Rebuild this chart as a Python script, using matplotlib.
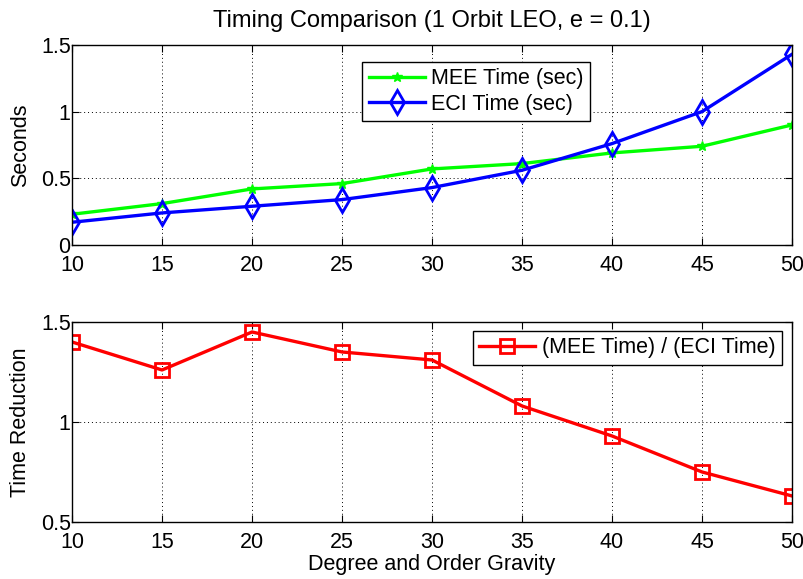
import numpy as np
import matplotlib
matplotlib.use('Agg')
import matplotlib.pyplot as plt

plt.rcParams['font.family'] = ['Liberation Sans', 'DejaVu Sans']

# degree and order of gravity field
degree = [10, 15, 20, 25, 30, 35, 40, 45, 50]
# run times (sec)
mee_time = [0.23, 0.31, 0.42, 0.46, 0.57, 0.61, 0.69, 0.74, 0.90]
eci_time = [0.17, 0.24, 0.29, 0.34, 0.43, 0.56, 0.76, 1.00, 1.43]
# time reduction ratio
ratio = [1.40, 1.26, 1.45, 1.35, 1.31, 1.08, 0.93, 0.75, 0.63]

FS = 15.5

fig = plt.figure(figsize=(8.04, 5.79), dpi=100)
ax1 = fig.add_axes([0.0896, 0.577, 0.8955, 0.3454])
ax2 = fig.add_axes([0.0896, 0.0985, 0.8955, 0.3454])

def matlab_style(ax):
    ax.grid(True, linestyle=(0, (1, 3)), color='black', linewidth=0.7)
    ax.tick_params(direction='in', top=True, right=True, labelsize=FS, length=5)
    ax.tick_params(axis='x', pad=7)
    ax.tick_params(axis='y', pad=1)
    for s in ax.spines.values():
        s.set_linewidth(1.0)
    ax.set_xlim(10, 50)
    ax.set_xticks(degree)

ax1.plot(degree, mee_time, color='#00ff00', linewidth=2.4, marker='*',
         markersize=7, label='MEE Time (sec)')
ax1.plot(degree, eci_time, color='#0000ff', linewidth=2.4, marker='d',
         markersize=12, markerfacecolor='none', markeredgewidth=2, label='ECI Time (sec)')
matlab_style(ax1)
ax1.set_ylim(0, 1.5)
ax1.set_yticks([0, 0.5, 1, 1.5])
ax1.set_yticklabels(['0', '0.5', '1', '1.5'])
ax1.set_ylabel('Seconds', fontsize=FS)
ax1.yaxis.set_label_coords(-0.057, 0.5)
ax1.set_title('Timing Comparison (1 Orbit LEO, e = 0.1)', fontsize=17, pad=13)
leg1 = ax1.legend(loc='upper left', bbox_to_anchor=(0.403, 0.915), borderaxespad=0,
                  fontsize=FS, fancybox=False, edgecolor='black', framealpha=1,
                  handlelength=2.6, borderpad=0.3, labelspacing=0.2, handletextpad=0.3)
leg1.get_frame().set_linewidth(1.0)

ax2.plot(degree, ratio, color='#ff0000', linewidth=2.4, marker='s',
         markersize=10, markerfacecolor='none', markeredgewidth=2,
         label='(MEE Time) / (ECI Time)')
matlab_style(ax2)
ax2.set_ylim(0.5, 1.5)
ax2.set_yticks([0.5, 1, 1.5])
ax2.set_yticklabels(['0.5', '1', '1.5'])
ax2.set_ylabel('Time Reduction', fontsize=FS)
ax2.yaxis.set_label_coords(-0.057, 0.5)
ax2.set_xlabel('Degree and Order Gravity', fontsize=FS, labelpad=1)
leg2 = ax2.legend(loc='upper right', bbox_to_anchor=(0.986, 0.955), borderaxespad=0,
                  fontsize=FS, fancybox=False, edgecolor='black', framealpha=1,
                  handlelength=2.6, borderpad=0.3, handletextpad=0.3)
leg2.get_frame().set_linewidth(1.0)

fig.savefig('out.png', dpi=100)
